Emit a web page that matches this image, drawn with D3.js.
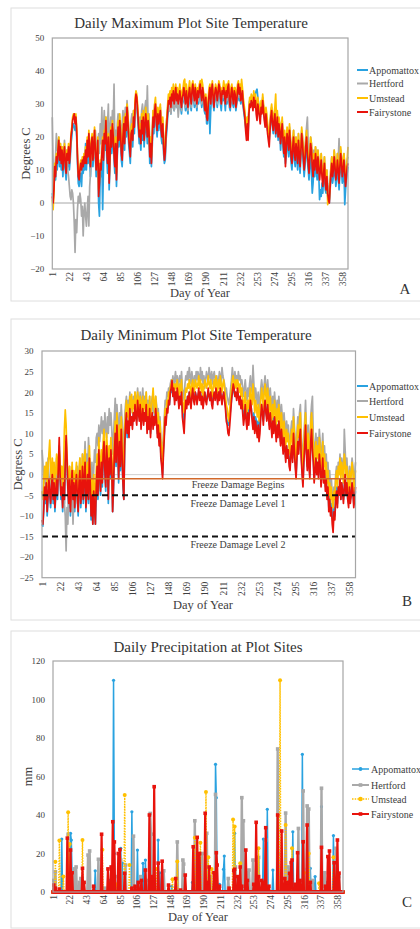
<!DOCTYPE html>
<html><head><meta charset="utf-8">
<script src="https://cdn.jsdelivr.net/npm/d3@7"></script>
<style>body{margin:0;background:#fff}svg{display:block}text{font-family:"Liberation Serif","Times New Roman",serif;fill:#404040}</style>
</head><body>
<script>
const days = d3.range(1, 366);
const dayTicks = [1,22,43,64,85,106,127,148,169,190,211,232,253,274,295,316,337,358];
const sites = ["Appomattox","Hertford","Umstead","Fairystone"];
const maxTicks = [50,40,30,20,10,0,-10,-20];
const minTicks = [30,25,20,15,10,5,0,-5,-10,-15,-20,-25];
const precipTicks = [120,100,80,60,40,20,0];
const freezeLevels = [-1,-5,-15];
const freezeLabels = ["Freeze Damage Begins","Freeze Damage Level 1","Freeze Damage Level 2"];

// Daily maximum temperature (deg C)
const maxAppomattox = [
3,1,5,9,7,12,10,14,17,11, 15,10,14,8,12,15,10,7,13,11, 15,10,13,18,20,23,24,23,22,24, 20,12,6,5,8,9,5,11,9,12,
10,18,10,17,12,19,13,8,16,18, 11,15,20,14,8,12,17,0,-4,9, 8,13,-2,11,19,16,23,14,9,18, 4,12,20,15,22,18,13,9,16,5,
14,21,17,23,19,13,11,18,22,16, 24,20,27,23,18,15,12,19,20,17, 24,21,28,31,30,26,22,18,20,16, 23,19,24,17,21,25,22,18,23,20,
12,16,11,17,24,21,26,28,23,20, 25,22,24,26,20,18,22,15,12,13, 19,22,26,29,28,30,27,31,29,32, 28,30,33,29,31,28,30,32,29,27,
30,31,33,30,28,32,29,27,31,33, 30,28,32,34,31,29,33,30,28,32, 30,32,34,31,29,33,31,28,27,30, 24,24,28,31,21,28,32,34,30,28,
31,33,32,29,31,34,33,30,28,32, 31,33,31,28,32,30,33,34,29,28, 31,33,30,29,32,31,28,30,32,34, 31,33,30,31,32,29,27,25,23,21,
25,21,28,31,30,32,31,30,33,32, 33,34,34.5,32,30,28,26,30,28,31, 29,26,24,27,25,22,21,19,23,26, 27,23,21,24,26,20,22,25,19,23,
21,16,20,23,17,14,18,12,15,19, 17,14,20,16,12,10,15,18,13,11, 16,14,10,17,13,9,14,19,16,12, 8,11,15,18,13,10,7,12,16,9,
3,6,11,8,13,10,7,12,9,1, 4,2,6,3,8,10,4,3,6,2, 1,0,4,8,10,6,8,12,9,5, 7,11,8,4,9,13,10,6,8,11, -0.5,4,7,9,11];
const maxHertford = [
26,12,8,10,14,21,16,18,20,15, 18,13,17,12,15,19,14,11,16,10, 8,5,2,1,4,3,0,-6,-15,-5, -9,-2,2,0,3,1,-4,-1,-10,-3,
0,-4,-7,-2,2,-7,5,9,13,18, 16,20,14,22,18,12,17,21,15,24, 18,29,16,23,28,20,26,18,24,30, 16,22,26,20,28,24,36,18,22,17,
24,27,21,26,23,19,24,28,22,26, 29,24,31,27,23,20,16,25,27,22, 28,25,31,32,30,27,26,23,26,22, 28,30,27,22,29,31,26,35.5,24,27,
18,20,15,22,28,25,30,29,24,23, 28,26,27,29,24,22,25,19,16,18, 23,26,29,30,28,31,27,30,29,32, 28,30,32,29,31,26,29,31,30,28,
31,32,34,30,29,33,31,28,32,34, 31,29,33,35,32,30,34,31,29,33, 31,33,35,32,30,34,32,29,28,31, 27,26,29,32,33,30,33,35,31,30,
32,34,33,30,32,35,34,31,30,33, 32,34,32,30,33,31,34,35,30,29, 32,34,31,30,33,32,29,31,33,35, 32,34,31,32,33,30,29,27,25,23,
26,24,28,31,30,31,30,29,33,31, 32,29,27,31,29,28,26,30,28,32, 29,27,25,28,26,23,22,21,24,27, 29,26,24,26,28,23,24,27,22,25,
24,21,23,25,21,18,21,16,19,22, 21,18,23,20,17,15,19,22,17,16, 20,18,15,21,17,14,18,22,20,17, 14,16,20,23,26,18,13,16,20,18,
14,12,16,13,17,15,12,16,13,10, 12,15,11,8,11,14,9,7,10,6, 4,3,7,11,14,10,12,16,13,10, 12,15,13,19.5,13,16,14,11,12,15, 12,8,10,13,14];
const maxUmstead = [
1,-2,3,12,9,15,13,17,20,14, 18,13,17,11,15,18,13,10,16,14, 18,13,16,21,23,26,27,27,25,27, 23,15,9,8,11,13,11,14,12,15,
13,17,14,20,16,22,17,12,19,21, 15,18,23,17,11,15,20,4,7,13, 12,16,20,15,22,20,26,18,14,21, 8,16,23,19,25,22,17,13,20,9,
18,25,21,27,23,17,15,22,26,20, 27,24,30,27,22,19,16,23,24,21, 28,25,32,34,33,30,26,22,24,20, 27,23,28,21,25,29,26,22,27,24,
16,20,14,21,28,25,30,32,27,24, 29,26,28,30,24,22,26,19,15,17, 23,26,30,33,32,34,31,35,33,36, 32,34,36,33,35,32,34,36,33,31,
34,35,37,37.5,32,36,33,31,35,37, 34,32,36,37,35,33,36,34,32,35, 34,36,37,35,37.5,36,34,32,30,33, 28,27,32,35,36,32,35,37,34,31,
34,36,35,33,35,37,36,34,32,35, 35,37,35,32,36,34,36,37,33,31, 35,36,34,32,35,35,31,33,36,37, 35,36,33,37.5,35,32,30,28,24,21,
26,22,29,32,31,33,32,30,34,31, 33,30,28,32,30,29,27,31,29,33, 30,28,26,29,27,24,22,20,24,28, 30,27,25,27,29,33,25,28,22,26,
24,20,23,26,21,17,22,14,19,23, 21,18,24,20,16,14,19,22,17,15, 20,18,14,21,17,13,18,23,20,16, 12,15,19,22,17,14,11,16,20,18,
13,10,15,12,17,14,11,16,13,9, 12,15,10,7,11,14,8,6,10,-0.5, 2,1,7,11,14,10,12,16,13,9, 11,15,12,8,13,17,14,10,12,15, 11,7,10,13,17];
const maxFairystone = [
2,0,4,11,8,14,12,16,19,13, 17,12,16,10,14,17,12,9,15,13, 17,12,15,20,22,25,26,27,24,26, 22,14,8,7,10,12,10,13,11,14,
12,16,12,19,14,21,15,11,18,20, 13,17,22,16,10,14,19,2,6,12, 10,15,19,13,21,18,25,16,12,20, 6,14,22,17,24,20,15,11,18,7,
16,23,19,25,21,15,13,20,24,18, 26,22,29,25,20,17,14,21,22,19, 26,23,30,33,32,28,24,20,22,18, 25,21,26,19,23,27,24,20,25,22,
14,18,12,19,26,23,28,30,25,22, 27,24,26,28,22,20,24,17,13,15, 21,24,28,31,30,32,29,33,31,34, 30,32,35,31,33,30,32,34,31,29,
32,33,35,32,30,34,31,29,33,35, 32,30,34,36,33,31,35,32,30,34, 32,34,36,33,31,35,33,30,28,32, 26,25,30,33,35,30,34,36,32,29,
33,35,34,31,33,36,35,32,30,34, 33,35,33,30,34,32,35,36,31,29, 33,35,32,30,34,33,29,31,34,36, 33,35,31,32,34,30,28,26,22,19,
24,19,27,30,29,31,30,28,32,29, 31,27,25,30,28,26,24,29,27,31, 28,25,23,27,24,21,19,17,22,26, 28,24,22,25,27,21,23,26,20,24,
22,18,21,24,19,15,20,11,17,21, 19,16,22,18,14,12,17,20,15,13, 18,16,12,19,15,11,16,21,18,14, 10,13,17,20,15,12,9,14,18,16,
11,8,13,10,15,12,9,14,11,7, 10,13,8,5,9,12,6,4,8,3, 1,0,5,9,12,8,10,14,11,7, 9,13,10,6,11,15,12,8,10,13, 9,5,8,11,12];

// Daily minimum temperature (deg C)
const minAppomattox = [
-12,-12.5,-9,-4,-7,-3,-10,-6,-2,-5, -8,-4,-1,-7,-3,-9,-5,-2,-6,1, 7,-1,-6,-4,-9,-3,-7,2,8,3, -4,-8,-2,-10,-5,0,-7,-3,-9,-4,
-1,-6,-10,-3,0,-8,-5,1,-7,-2, 2,-9,-4,-1,-7,3,-3,-11,-6,-12, -5,-9,-12,-4,1,-6,5,-1,-5,2, -3,4,7,0,-4,6,2,-7,3,-1,
5,1,-9,-4,4,9,2,11,5,-2, 7,1,10,4,-3,-6,6,11,14,9, 12,10,15,13,14,12,15,14,16,14, 13,17,15,14,16,12,14,16,13,15,
14,17,11,14,12,16,10,13,15,12, 14,13,16,13,10,12,8,10,5,3, 0,6,10,14,13,16,16,18,17,20, 20,21,19,20,18,20,19,20,19,17,
19,18,20,16,14,13,16,18,17,19, 18,20,18,17,19,20,19,18,20,19, 18,19,20,19,20,18,19,17,19,20, 19,18,19,20,19,18,20,18,17,19,
20,19,20,19,18,20,19,20,19,18, 19,20,19,17,14,13,12,12,14,16, 18,20,21,20,19,20,19,20,19,18, 19,17,18,16,14,15,17,14,13,16,
14,16,18,16,14,13,15,12,14,13, 11,13,10,12,15,17,15,13,16,18, 15,14,17,14,12,15,13,11,14,11, 14,12,9,12,10,13,11,8,11,9,
6,9,7,4,7,5,6,3,2,5, 7,4,10,6,3,0,4,8,6,9, 11,5,1,-2,3,7,12,6,2,6, 3,0,8,11,7,4,-1,2,4,1,
3,0,5,2,-2,1,4,-1,1,-3, -1,-5,-3,-8,-5,-9,-7,-10,-12,-8, -10,-5,-3,-7,-3,-5,-1,-6,-2,-4, -6,-3,0,-5,-2,-6,-7,-3,-6,-5, -2,-4,-7,-6,-4];
const minHertford = [
6,3,-2,1,-4,2,-3,4,0,-2, -5,1,3,-3,2,-6,0,4,-2,3, 5,1,-3,2,-4,0,-7,-10,-18.5,-8, -12,-4,2,-6,-9,-3,-12,-5,0,-7,
-3,2,-8,0,4,-5,-2,5,-1,3, 8,2,5,0,9,4,1,-3,3,-6, 1,6,3,9,10,7,12,8,11,14, 10,13,8,15,11,9,14,10,16,12,
15,11,5,9,14,18.5,12,17,13,9, 15,11,17,13,8,6,14,17,19,15, 18,16,20,15,18,17,19,16,20,18, 17,21,18,16,20,15,18,21,17,19,
16,20,14,18,15,19,13,17,19,15, 18,16,19,17,13,16,11,14,9,7, 5,10,14,18,17,20,19,21,20,22, 23,22,24,21,23,25,22,24,21,23,
24,22,25,21,20,18,22,24,23,25, 23,26,24,22,25,23,21,24,22,25, 23,25,24,22,26,23,25,22,24,21, 23,25,24,22,26,24,23,25,22,24,
25,23,22,24,21,23,25,24,22,26, 24,23,22,20,21,19,18,17,19,21, 23,26,24,22,25,23,24,22,25,23, 24,22,23,21,19,21,23,20,18,21,
19,22,24,21,20,26.5,22,18,21,19, 17,20,16,18,21,23,21,19,22,24, 21,19,23,20,17,21,18,16,19,16, 20,17,14,18,15,19,16,13,17,14,
11,15,12,9,13,10,12,8,7,11, 13,9,16,12,8,5,10,14,11,15, 17,10,6,3,9,13,18,11,7,12, 8,5,14,17,19,9,4,7,10,6,
9,5,11,8,3,6,10,4,7,2, 5,0,3,-2,1,-3,-1,-5,-7,-3, -5,0,2,-2,3,1,5,0,4,2, -1,11,6,1,4,-1,-3,2,-2,1, 4,2,-3,0,3];
const minUmstead = [
-4,-6,-2,2,-1,3,-3,1,5,8.4, 2,-2,4,-1,3,-3,1,5,0,4, 6,3,-1,2,-3,1,11,15.7,12,5, 0,-4,2,-5,-1,3,-3,1,-5,0,
3,-2,-6,1,4,-3,0,5,-2,2, 6,-3,1,3,-2,7,1,-5,-1,-8, 0,-4,-6,1,5,-1,9,3,0,6, 2,8,11,4,1,10,6,-2,7,4,
9,5,-5,1,9,13,7,15,10,3, 12,6,14,9,3,0,11,15,18,14, 17,13,19,16,19.5,15,18,16,20,17, 15,20,18,16,19,14,17,19,15,18,
16,20,13,17,14,19,12,16,18,21, 17,15,19,16,12,15,10,13,8,6, 3,8,12,16,15,18,17,20,19,21, 22,23,21,22,20,22,21,23,21,19,
22,20,23,18,17,15,19,21,20,22, 21,23,21,19,22,23,21,20,23,22, 21,22,24,21,23,20,22,19,21,23, 22,21,22,24,22,21,23,20,19,22,
23,21,24,22,20,23,21,24,22,20, 22,23,21,19,17,16,14,13,16,18, 21,23,24,22,21,23,21,23,22,20, 22,19,21,18,16,18,20,17,15,18,
16,19,21,18,17,22,19,15,18,16, 14,17,13,15,18,21,19,16,20,22, 19,17,21,18,15,19,16,13,17,14, 18,15,12,16,13,17,14,11,15,12,
9,13,10,7,11,8,10,6,5,9, 11,7,14,10,6,3,8,12,9,13, 15,8,4,1,7,11,15,9,5,10, 6,3,12,15,11,7,2,5,8,4,
7,3,9,6,1,4,8,2,5,0, 3,-2,1,-5,-2,-6,-3,-7,-8,-4, -6,-1,1,-3,2,0,4,-1,3,1, -2,5,3,0,2,-2,-4,1,-3,0, 3,1,-4,-1,1];
const minFairystone = [
-11,-12,-8,-3,-6,-2,-9,-5,-1,-4, -7,-3,0,-6,-2,-8,-4,-1,-5,2, 9,0,-5,-3,-8,-2,-6,3,9.5,4, -3,-7,-1,-9,-4,1,-6,-2,-8,-3,
0,-5,-9,-2,1,-7,-4,2,-6,-1, 3,-8,-3,0,-6,4,-2,-10,-5,-12, -4,-8,-12,-3,2,-5,6,0,-4,3, -2,5,8,1,-3,7,3,-6,4,0,
6,2,-9,-3,5,10,3,12,6,-1, 8,2,11,5,-2,-6,7,12,15,10, 13,9,16,12,14,11,15,13,17,14, 12,18,15,13,17,11,14,16,12,15,
13,17,10,14,11,16,9,13,15,11, 14,12,16,13,9,12,7,10,4,2, -1,5,9,14,12,16,15,18,17,20, 21,22.8,19,21,17,20,18,21,19,16,
19,17,20,14,12,10,15,18,16,19, 17,20,18,16,19,21,18,17,20,19, 17,19,21,18,20,17,19,16,18,20, 18,17,19,21,19,18,20,17,16,19,
20,18,21,19,17,20,18,21,19,17, 19,20,18,16,13,12,10,9.5,12,15, 18,20,22,21,19,20,18,21,19,17, 19,16,18,15,12,14,17,13,11,15,
12,15,18,16,13,11,14,10,13,11, 9,12,8,10,14,17,15,12,16,18, 15,13,17,14,11,15,12,9,13,10, 14,11,8,12,9,13,10,7,11,8,
5,9,6,3,7,4,6,2,1,5, 7,3,10,6,2,-1,4,8,5,9, 11,4,0,-3,3,7,12,5,1,6, 2,-1,8,11,6,3,-2,1,4,0,
3,-1,5,2,-3,0,4,-2,1,-4, -1,-6,-3,-9,-6,-10,-8,-12,-14,-9, -11,-6,-4,-8,-3,-5,-1,-6,-2,-4, -7,-3,0,-5,-2,-6,-8,-3,-7,-5, -2,-4,-8,-6,-3];

// Daily precipitation (mm): [day, mm] for rain days, all other days 0
const rainAppomattox = [[4,2],[12,27.5],[23,30.5],[24,27],[25,8],[30,2],[54,11],[62,3],[72,6],[77,110],[78,20],[86,22.7],[88,15],[100,41.7],[107,21.8],[110,3],[114,14.9],[117,16.6],[121,6],[133,27],[135,10],[150,3],[166,8],[176,5],[185,7],[205,66.3],[206,49],[210,4],[215,11.8],[216,18.7],[229,30.5],[241,8],[265,27.5],[270,43],[277,11.4],[283,12],[302,31.3],[308,6],[314,71.5],[316,12],[324,12.3],[330,8],[338,44.3],[345,5],[353,29.3],[358,8]];
const rainHertford = [[2,6],[4,10.5],[20,30],[21,15],[28,12],[30,13],[34,5],[36,7],[45,19.2],[47,21.3],[58,17],[66,2],[75,12],[79,8],[86,16.6],[92,14],[102,29],[111,8],[118,6],[123,40.8],[124,30],[140,11],[157,26],[164,16.6],[165,14.5],[179,37],[188,20],[194,30.5],[199,8],[205,50.7],[221,7],[230,13],[238,49],[240,37],[245,10],[247,11.4],[252,16.6],[259,18],[268,27],[283,74.3],[284,20],[293,41],[297,13],[300,9],[309,33],[315,52.5],[320,44.7],[322,43.1],[327,6],[338,53.9],[342,10],[356,22.7],[360,8]];
const rainUmstead = [[4,15.7],[9,26.7],[14,8],[20,41.4],[22,25],[38,27],[63,22],[80,4],[91,50.4],[97,14],[131,12],[151,6.6],[157,15.8],[179,28.2],[186,25.6],[193,52],[196,18],[200,12],[227,37.7],[229,34],[236,15],[259,22.7],[286,110],[293,34.8],[301,22.7],[316,10],[322,20],[335,4.5],[353,18],[358,5]];
const rainFairystone = [[2,3.6],[4,2],[9,1.5],[19,28],[23,21.8],[25,10],[38,12.3],[40,5],[52,3],[62,30],[70,12],[74,13],[76,36.5],[78,26],[83,20],[85,22],[91,9.7],[100,2],[104,3],[108,5],[112,6],[117,11.4],[122,40],[125,8],[128,54.7],[133,15],[138,16],[146,3.6],[155,7],[161,1],[167,8.8],[177,23.5],[182,28.4],[185,20],[192,40.9],[195,5],[197,13],[203,10],[206,20.4],[207,14],[210,3],[222,2],[228,11],[229,11.8],[233,8],[236,13],[238,3],[243,21.8],[245,6],[253,4],[256,36.2],[259,8],[263,6],[266,5],[268,33.4],[272,3],[283,40],[288,31.7],[292,7],[295,5],[298,9.7],[300,15.2],[301,16.6],[305,4],[308,20.4],[311,6],[315,26.1],[320,34.8],[324,5],[338,23.2],[343,3],[346,18.4],[348,21.3],[354,15.2],[358,27],[360,9.8]];

// ---------------- drawing ----------------
const colors = {Appomattox:"#29a2e0", Hertford:"#a9a9a9", Umstead:"#ffc000", Fairystone:"#e8130c"};
const FONT = '"Liberation Serif","Times New Roman",serif';
const svg = d3.select("body").append("svg").attr("width",420).attr("height",929);

function rainSeries(events){ const m = new Map(events); return days.map(d => m.has(d) ? m.get(d) : 0); }

function panel(cfg){
  const g = svg.append("g");
  g.append("rect").attr("x",cfg.frame[0]).attr("y",cfg.frame[1]).attr("width",cfg.frame[2]).attr("height",cfg.frame[3])
    .attr("fill","#fff").attr("stroke","#dedede").attr("stroke-width",1);
  const x = d3.scaleLinear().domain([1,365]).range([cfg.left,cfg.right]);
  const y = d3.scaleLinear().domain([cfg.yTicks[cfg.yTicks.length-1], cfg.yTicks[0]]).range([cfg.bottom,cfg.top]);
  g.append("text").attr("x",cfg.titleX).attr("y",cfg.titleY).attr("text-anchor","middle")
    .style("font-size","15px").style("fill","#333").text(cfg.title);
  const ya = g.append("g").attr("transform",`translate(${cfg.left},0)`)
    .call(d3.axisLeft(y).tickValues(cfg.yTicks).tickSize(0).tickPadding(cfg.yPad));
  ya.select(".domain").remove();
  ya.selectAll("text").style("font-family",FONT).style("font-size","9px").style("fill","#404040");
  const xa = g.append("g").attr("transform",`translate(0,${cfg.bottom})`)
    .call(d3.axisBottom(x).tickValues(dayTicks).tickSize(0));
  xa.select(".domain").remove();
  xa.selectAll("text").attr("transform","rotate(-90)").attr("x",-cfg.xPad).attr("y",0).attr("dy","0.33em")
    .style("text-anchor","end").style("font-family",FONT).style("font-size","9.5px").style("fill","#404040");
  g.append("text").attr("x",cfg.xTitleX).attr("y",cfg.xTitleY).attr("text-anchor","middle").style("font-size","12.5px").text("Day of Year");
  g.append("text").attr("transform",`translate(${cfg.yTitleX},${(cfg.top+cfg.bottom)/2}) rotate(-90)`).attr("text-anchor","middle")
    .attr("dy","0.35em").style("font-size","12.5px").text(cfg.yTitle);
  g.append("text").attr("x",cfg.letter[0]).attr("y",cfg.letter[1]).attr("text-anchor","middle").style("font-size","15px").style("fill","#333").text(cfg.letter[2]);
  const plot = g.append("g");
  return {g, plot, x, y};
}

function box(p, cfg){
  p.g.append("rect").attr("x",cfg.left).attr("y",cfg.top).attr("width",cfg.right-cfg.left).attr("height",cfg.bottom-cfg.top)
    .attr("fill","none").attr("stroke","#a6a6a6").attr("stroke-width",1.2);
}

function tempLines(p, seriesList){
  const line = d3.line().x((d,i)=>p.x(days[i])).y(d=>p.y(d));
  seriesList.forEach((s,k)=>{
    p.plot.append("path").datum(s).attr("d",line).attr("fill","none")
      .attr("stroke",colors[sites[k]]).attr("stroke-width",1.7).attr("stroke-linejoin","round");
  });
}

function legendLines(g, x0, rows){
  sites.forEach((s,i)=>{
    g.append("line").attr("x1",x0).attr("x2",x0+11).attr("y1",rows[i]).attr("y2",rows[i]).attr("stroke",colors[s]).attr("stroke-width",2);
    g.append("text").attr("x",x0+12).attr("y",rows[i]).attr("dy","0.35em").style("font-size","10px").text(s);
  });
}

// ---- Panel A ----
const cfgA = {frame:[11,8,420,293], left:52.3, right:348, top:38, bottom:269, yTicks:maxTicks, yPad:8, xPad:3,
  title:"Daily Maximum Plot Site Temperature", titleX:191, titleY:28, xTitleX:200, xTitleY:297, yTitle:"Degrees C", yTitleX:26, letter:[405,294,"A"]};
const pA = panel(cfgA);
pA.plot.append("line").attr("x1",cfgA.left).attr("x2",cfgA.right).attr("y1",pA.y(0)).attr("y2",pA.y(0)).attr("stroke","#a6a6a6").attr("stroke-width",1);
tempLines(pA,[maxAppomattox,maxHertford,maxUmstead,maxFairystone]);
box(pA,cfgA);
legendLines(pA.g,357,[70,83.5,98,112]);

// ---- Panel B ----
const cfgB = {frame:[11,319,420,301], left:42, right:355.5, top:351, bottom:577.7, yTicks:minTicks, yPad:8.5, xPad:4,
  title:"Daily Minimum Plot Site Temperature", titleX:196, titleY:340, xTitleX:203, xTitleY:609, yTitle:"Degress C", yTitleX:18, letter:[407,606,"B"]};
const pB = panel(cfgB);
pB.plot.append("line").attr("x1",cfgB.left).attr("x2",cfgB.right).attr("y1",pB.y(0)).attr("y2",pB.y(0)).attr("stroke","#d0d0d0").attr("stroke-width",1);
tempLines(pB,[minAppomattox,minHertford,minUmstead,minFairystone]);
freezeLevels.forEach((lv,i)=>{
  pB.plot.append("line").attr("x1",cfgB.left).attr("x2",cfgB.right).attr("y1",pB.y(lv)).attr("y2",pB.y(lv))
    .attr("stroke", i===0 ? "#d2692a" : "#111").attr("stroke-width", i===0 ? 1.6 : 1.8)
    .attr("stroke-dasharray", i===0 ? null : "6,4");
  pB.plot.append("text").attr("x",238).attr("y",pB.y(lv)+ (i===0?9:12)).attr("text-anchor","middle")
    .style("font-size","10px").text(freezeLabels[i]);
});
box(pB,cfgB);
legendLines(pB.g,357,[386,401,417,433]);

// ---- Panel C ----
const cfgC = {frame:[11,631,420,297], left:53, right:343, top:661, bottom:892, yTicks:precipTicks, yPad:8, xPad:3,
  title:"Daily Precipitation at Plot Sites", titleX:208, titleY:652, xTitleX:198, xTitleY:921, yTitle:"mm", yTitleX:28, letter:[407,907,"C"]};
const pC = panel(cfgC);
const rain = [rainAppomattox,rainHertford,rainUmstead,rainFairystone].map(rainSeries);
const rainStyle = [
  {w:1.5, dash:null, marker:"circle", ms:1.6},
  {w:2.4, dash:null, marker:"square", ms:3.6},
  {w:1.4, dash:"1.5,1.2", marker:"circle", ms:2},
  {w:2.2, dash:null, marker:"square", ms:3.6}
];
const rline = d3.line().x((d,i)=>pC.x(days[i])).y(d=>pC.y(d));
rain.forEach((s,k)=>{
  const st = rainStyle[k], c = colors[sites[k]];
  pC.plot.append("path").datum(s).attr("d",rline).attr("fill","none").attr("stroke",c)
    .attr("stroke-width",st.w).attr("stroke-dasharray",st.dash).attr("stroke-linejoin","round");
  const mk = pC.plot.append("g").attr("fill",c);
  if(st.marker==="circle"){
    mk.selectAll("circle").data(s).join("circle").attr("cx",(d,i)=>pC.x(days[i])).attr("cy",d=>pC.y(d)).attr("r",st.ms);
  } else {
    mk.selectAll("rect").data(s).join("rect").attr("x",(d,i)=>pC.x(days[i])-st.ms/2).attr("y",d=>pC.y(d)-st.ms/2)
      .attr("width",st.ms).attr("height",st.ms);
  }
});
box(pC,cfgC);
const legC = [769,785,799,814];
sites.forEach((s,i)=>{
  const st = rainStyle[i], c = colors[s];
  pC.g.append("line").attr("x1",352).attr("x2",369).attr("y1",legC[i]).attr("y2",legC[i]).attr("stroke",c)
    .attr("stroke-width",Math.min(st.w,2)).attr("stroke-dasharray",st.dash);
  if(st.marker==="circle") pC.g.append("circle").attr("cx",360.5).attr("cy",legC[i]).attr("r",st.ms+0.3).attr("fill",c);
  else pC.g.append("rect").attr("x",360.5-st.ms/2).attr("y",legC[i]-st.ms/2).attr("width",st.ms).attr("height",st.ms).attr("fill",c);
  pC.g.append("text").attr("x",371).attr("y",legC[i]).attr("dy","0.35em").style("font-size","10px").text(s);
});
</script>
</body></html>
